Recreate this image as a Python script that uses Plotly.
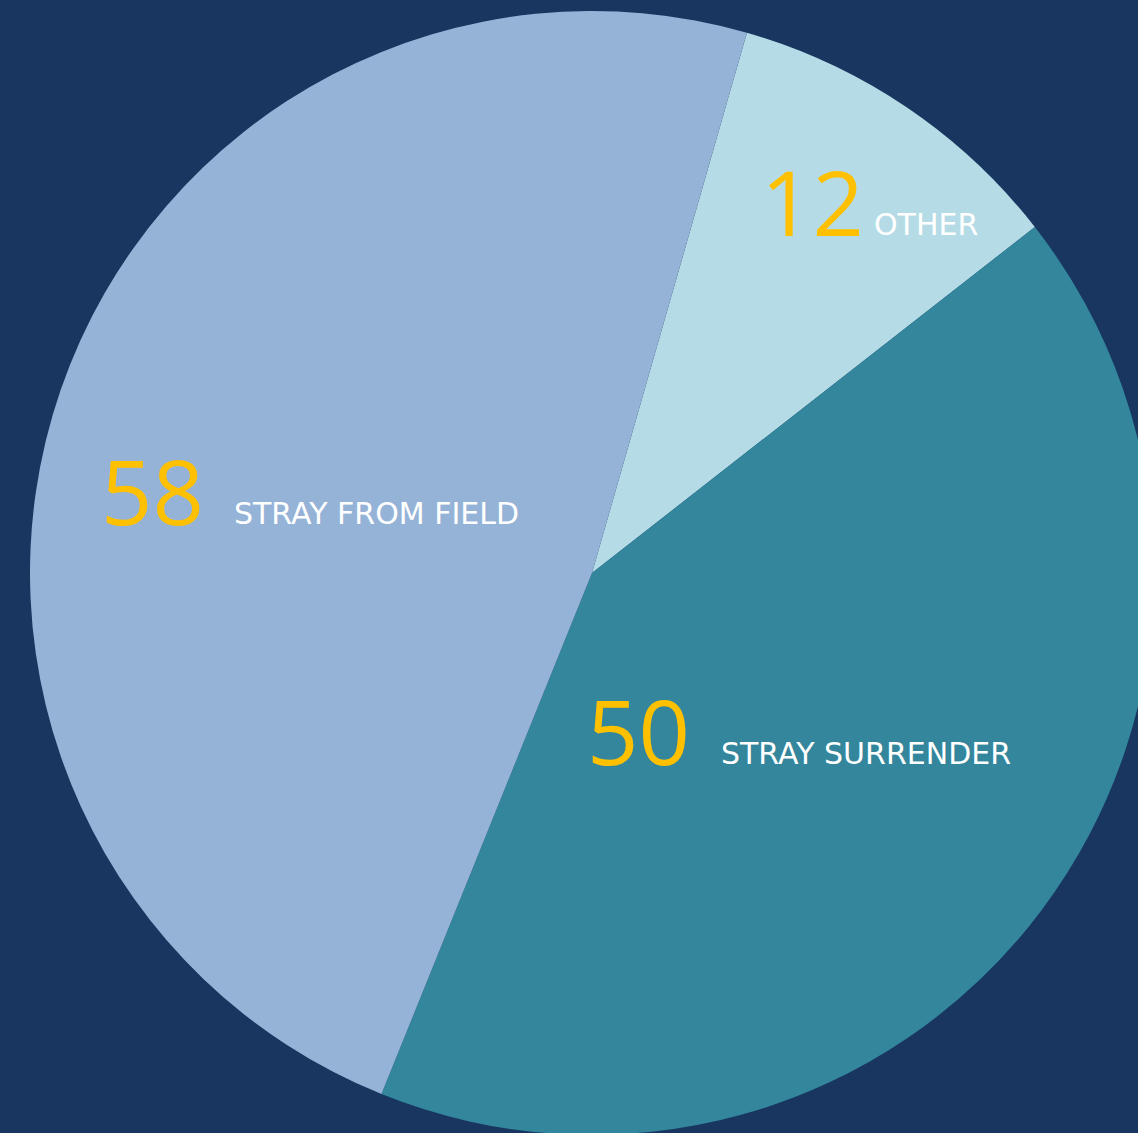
import plotly.graph_objects as go

# Data
categories = ["OTHER", "STRAY SURRENDER", "STRAY FROM FIELD"]
values = [12, 50, 58]
colors = ["#B5DCE6", "#33869C", "#95B3D7"]

W, H = 1200, 1200
BG = "#18365F"
YELLOW = "#FFC000"

# pie geometry in pixels (center, radius)
cx, cy, r = 592, 573, 562

fig = go.Figure(go.Pie(
    labels=categories,
    values=values,
    marker=dict(colors=colors, line=dict(width=0)),
    sort=False,
    direction="clockwise",
    rotation=16,
    textinfo="none",
    hoverinfo="label+value",
    showlegend=False,
    domain=dict(x=[(cx - r) / W, (cx + r) / W],
                y=[1 - (cy + r) / H, 1 - (cy - r) / H]),
))

# label positions (pixel: number left, label left, baseline)
label_pos = [(760, 873, 235), (586, 720, 764), (100, 233, 524)]

for cat, val, (nx, lx, base) in zip(categories, values, label_pos):
    fig.add_annotation(
        x=nx / W, y=1 - base / H, xref="paper", yref="paper",
        xanchor="left", yanchor="bottom", showarrow=False,
        text=str(val), borderpad=0,
        font=dict(family="Open Sans", size=90, color=YELLOW),
        yshift=-28,
    )
    fig.add_annotation(
        x=lx / W, y=1 - base / H, xref="paper", yref="paper",
        xanchor="left", yanchor="bottom", showarrow=False,
        text=cat, borderpad=0,
        font=dict(family="DejaVu Sans", size=30, color="white"),
        yshift=-8,
    )

fig.update_layout(
    width=W, height=H,
    margin=dict(l=0, r=0, t=0, b=0),
    paper_bgcolor=BG, plot_bgcolor=BG,
)

fig.write_html(
    "out.html",
    post_script="document.body.style.margin='0';document.body.style.overflow='hidden';document.body.style.background='" + BG + "';",
)
